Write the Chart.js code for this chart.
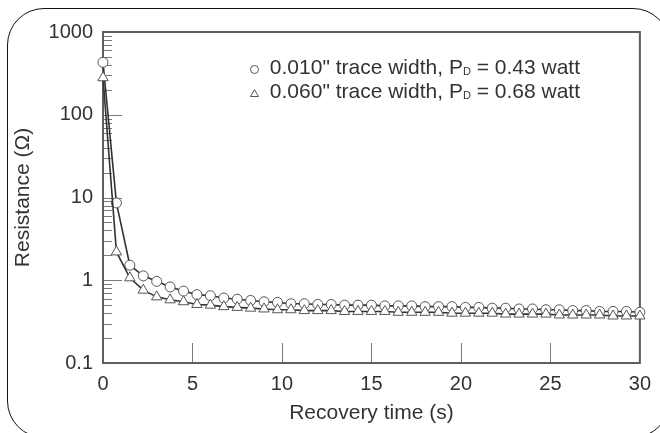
<!DOCTYPE html>
<html><head><meta charset="utf-8">
<script src="https://cdn.jsdelivr.net/npm/chart.js@4.4.0/dist/chart.umd.min.js"></script>
<style>
html,body{margin:0;padding:0;background:#fff;width:660px;height:433px;overflow:hidden;}
#wrap{position:relative;width:660px;height:433px;overflow:hidden;}
#frame{position:absolute;left:7px;top:8px;width:663px;height:430px;border:1.3px solid #111;border-radius:37px;box-sizing:border-box;pointer-events:none;}
canvas{position:absolute;left:0;top:0;}
#legend{position:absolute;right:80px;top:57px;font-family:"Liberation Sans",Arial,sans-serif;font-size:21px;color:#333;line-height:24px;}
.row{white-space:nowrap;display:flex;align-items:center;justify-content:flex-end;height:24px;}
.sym{display:inline-block;margin-right:11px;}
.circ{width:7px;height:7px;border:1px solid #555;border-radius:50%;}
.sub{font-size:11px;vertical-align:-1px;}
</style></head>
<body><div id="wrap">
<canvas id="c" width="660" height="433"></canvas>
<div id="legend">
  <div class="row"><span class="sym circ"></span><span>0.010" trace width, P<span class="sub">D</span> = 0.43 watt</span></div>
  <div class="row"><svg class="sym" width="9" height="8" viewBox="0 0 9 8"><polygon points="4.5,0.6 8.5,7.5 0.5,7.5" fill="none" stroke="#555" stroke-width="1"/></svg><span>0.060" trace width, P<span class="sub">D</span> = 0.68 watt</span></div>
</div>
<div id="frame"></div>
</div>
<script>
const FONT = '"Liberation Sans", Arial, sans-serif';
const times = [0,0.75,1.5,2.25,3,3.75,4.5,5.25,6,6.75,7.5,8.25,9,9.75,10.5,11.25,12,12.75,13.5,14.25,15,15.75,16.5,17.25,18,18.75,19.5,20.25,21,21.75,22.5,23.25,24,24.75,25.5,26.25,27,27.75,28.5,29.25,30];
const res010 = [430,8.6,1.52,1.13,0.97,0.83,0.74,0.67,0.65,0.61,0.59,0.57,0.55,0.54,0.52,0.52,0.51,0.51,0.50,0.50,0.50,0.49,0.49,0.49,0.48,0.48,0.48,0.47,0.47,0.46,0.46,0.45,0.45,0.44,0.44,0.43,0.43,0.42,0.42,0.42,0.41];
const res060 = [280,2.2,1.07,0.76,0.63,0.58,0.55,0.51,0.50,0.48,0.47,0.46,0.45,0.44,0.44,0.43,0.43,0.43,0.42,0.42,0.42,0.42,0.41,0.41,0.41,0.41,0.40,0.40,0.40,0.40,0.39,0.39,0.39,0.39,0.38,0.38,0.38,0.38,0.37,0.37,0.37];
const yTickValues = [0.1,1,10,100,1000];
const xTickValues = [0,5,10,15,20,25,30];
const xInnerTicks = [5,10,15,20,25];
const yMajorInner = [1,10,100];
const yMinorMult = [2,3,4,5,6,7,8,9];
const yDecades = [0.1,1,10,100];

const toPts = (arr) => times.map((t,i)=>({x:t,y:arr[i]}));

const frameTicks = {
  id:'frameTicks',
  beforeDatasetsDraw(chart){
    const {ctx, chartArea:a, scales:{x,y}} = chart;
    ctx.save();
    ctx.strokeStyle = '#7a7a7a';
    ctx.lineWidth = 1;
    ctx.beginPath();
    yDecades.forEach(d=>{
      yMinorMult.forEach(m=>{
        const py = Math.round(y.getPixelForValue(d*m))+0.5;
        ctx.moveTo(a.left, py); ctx.lineTo(a.left+9, py);
      });
    });
    yMajorInner.forEach(v=>{
      const py = Math.round(y.getPixelForValue(v))+0.5;
      ctx.moveTo(a.left, py); ctx.lineTo(a.left+19, py);
    });
    xInnerTicks.forEach(v=>{
      const px = Math.round(x.getPixelForValue(v))+0.5;
      ctx.moveTo(px, a.bottom); ctx.lineTo(px, a.bottom-20);
    });
    ctx.stroke();
    ctx.strokeStyle = '#5e5e5e';
    ctx.lineWidth = 2;
    ctx.strokeRect(a.left, a.top, a.right-a.left, a.bottom-a.top);
    ctx.restore();
  }
};

new Chart(document.getElementById('c'), {
  type:'line',
  data:{
    datasets:[
      {label:'0.010" trace width, PD = 0.43 watt', data:toPts(res010), order:1, clip:false,
       borderColor:'#333', borderWidth:1.6, tension:0,
       pointStyle:'circle', pointRadius:5, pointBackgroundColor:'#fff', pointBorderColor:'#555', pointBorderWidth:1},
      {label:'0.060" trace width, PD = 0.68 watt', data:toPts(res060), order:0, clip:false,
       borderColor:'#333', borderWidth:1.6, tension:0,
       pointStyle:'triangle', pointRadius:6, pointBackgroundColor:'#fff', pointBorderColor:'#555', pointBorderWidth:1}
    ]
  },
  options:{
    responsive:false, animation:false, devicePixelRatio:1,
    layout:{padding:{top:32,right:13,left:0,bottom:0}},
    plugins:{legend:{display:false},tooltip:{enabled:false}},
    scales:{
      x:{type:'linear',min:0,max:30,
        afterFit(s){s.height=70;},
        afterBuildTicks(s){s.ticks = xTickValues.map(v=>({value:v}));},
        ticks:{padding:9,color:'#333',font:{family:FONT,size:20},maxRotation:0,autoSkip:false},
        grid:{display:false,drawTicks:false},
        border:{display:false},
        title:{display:true,text:'Recovery time (s)',color:'#333',font:{family:FONT,size:21},padding:{top:0,bottom:7}}
      },
      y:{type:'logarithmic',min:0.1,max:1000,
        afterFit(s){s.width=103;},
        afterBuildTicks(s){s.ticks = yTickValues.map(v=>({value:v}));},
        ticks:{padding:10,color:'#333',font:{family:FONT,size:20},autoSkip:false,callback:(v)=>String(v)},
        grid:{display:false,drawTicks:false},
        border:{display:false},
        title:{display:true,text:'Resistance (Ω)',color:'#333',font:{family:FONT,size:21},padding:{top:11,bottom:0}}
      }
    }
  },
  plugins:[frameTicks]
});
</script>
</body></html>
